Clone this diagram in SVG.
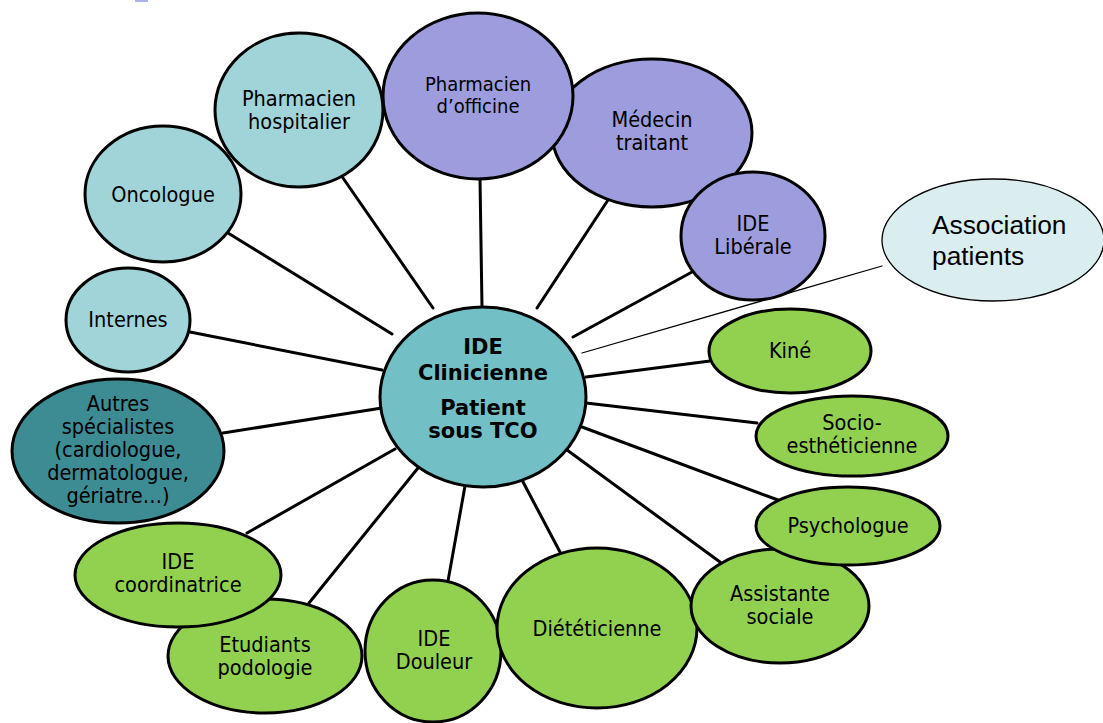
<svg xmlns="http://www.w3.org/2000/svg" width="1103" height="723" viewBox="0 0 1103 723">
<style>
.n{stroke:#000;stroke-width:3}
.lt{fill:#a0d4d8}.pu{fill:#9d9cdc}.gr{fill:#92d050}.dk{fill:#3d8b93}.ce{fill:#72bfc5}
.as{fill:#daedef;stroke:#000;stroke-width:1.3}
.c line{stroke:#000;stroke-width:3;stroke-linecap:round}
text{font-family:"DejaVu Sans Condensed","DejaVu Sans",sans-serif;font-size:21.5px;fill:#000;text-anchor:middle}
.s{font-size:20px}
.b{font-family:"DejaVu Sans",sans-serif;font-weight:bold;font-size:21px}
.ar{font-family:"Liberation Sans",Arial,sans-serif;font-size:26.3px;text-anchor:start}
</style>
<rect x="135" y="0" width="13" height="2" fill="#aab0f0"/>
<g id="connectors" class="c">
<line x1="228" y1="233" x2="392" y2="334"/>
<line x1="343" y1="178" x2="433" y2="308"/>
<line x1="480" y1="179" x2="482" y2="307"/>
<line x1="608" y1="200" x2="537" y2="308"/>
<line x1="692" y1="272" x2="573" y2="337"/>
<line x1="882" y1="266" x2="582" y2="353" style="stroke-width:1.3"/>
<line x1="586" y1="377" x2="710" y2="361"/>
<line x1="586" y1="403" x2="757" y2="423"/>
<line x1="582" y1="427" x2="778" y2="500"/>
<line x1="567" y1="450" x2="720" y2="562"/>
<line x1="522" y1="480" x2="560" y2="552"/>
<line x1="465" y1="486" x2="448" y2="581"/>
<line x1="418" y1="468" x2="309" y2="603"/>
<line x1="395" y1="449" x2="247" y2="533"/>
<line x1="223" y1="433" x2="382" y2="408"/>
<line x1="190" y1="332" x2="382" y2="370"/>
</g>
<g id="oncologue"><ellipse class="n lt" cx="163" cy="194" rx="78" ry="68"/><text x="163" y="202">Oncologue</text></g>
<g id="pharmacien-hospitalier"><ellipse class="n lt" cx="299" cy="110" rx="84" ry="77"/><text x="299" y="106">Pharmacien</text><text x="299" y="129">hospitalier</text></g>
<g id="medecin-traitant"><ellipse class="n pu" cx="652" cy="133" rx="100" ry="74"/><text x="652" y="127">Médecin</text><text x="652" y="150">traitant</text></g>
<g id="pharmacien-officine"><ellipse class="n pu" cx="478" cy="96" rx="95" ry="83"/><text class="s" x="478" y="91">Pharmacien</text><text class="s" x="478" y="113">d’officine</text></g>
<g id="ide-liberale"><ellipse class="n pu" cx="753" cy="236" rx="72" ry="64"/><text x="753" y="231">IDE</text><text x="753" y="254">Libérale</text></g>
<g id="internes"><ellipse class="n lt" cx="128" cy="320" rx="62" ry="52"/><text x="128" y="327">Internes</text></g>
<g id="autres-specialistes"><ellipse class="n dk" cx="118" cy="451" rx="106" ry="72"/><text x="118" y="411">Autres</text><text x="118" y="434">spécialistes</text><text x="118" y="457">(cardiologue,</text><text x="118" y="480">dermatologue,</text><text x="118" y="503">gériatre…)</text></g>
<g id="etudiants-podologie"><ellipse class="n gr" cx="265" cy="656" rx="97" ry="57"/><text x="265" y="652">Etudiants</text><text x="265" y="675">podologie</text></g>
<g id="ide-coordinatrice"><ellipse class="n gr" cx="178" cy="575" rx="103" ry="52"/><text x="178" y="569">IDE</text><text x="178" y="592">coordinatrice</text></g>
<g id="ide-douleur"><ellipse class="n gr" cx="433" cy="651" rx="68" ry="71"/><text x="434" y="646">IDE</text><text x="434" y="669">Douleur</text></g>
<g id="dieteticienne"><ellipse class="n gr" cx="597" cy="628" rx="100" ry="80"/><text x="597" y="636">Diététicienne</text></g>
<g id="assistante-sociale"><ellipse class="n gr" cx="780" cy="606" rx="89" ry="57"/><text x="780" y="601">Assistante</text><text x="780" y="624">sociale</text></g>
<g id="psychologue"><ellipse class="n gr" cx="848" cy="526" rx="92" ry="39"/><text x="848" y="533">Psychologue</text></g>
<g id="kine"><ellipse class="n gr" cx="790" cy="351" rx="81" ry="42"/><text x="790" y="358">Kiné</text></g>
<g id="socio-estheticienne"><ellipse class="n gr" cx="852" cy="436" rx="96" ry="40"/><text x="852" y="430">Socio-</text><text x="852" y="453">esthéticienne</text></g>
<g id="association-patients"><ellipse class="as" cx="993" cy="240" rx="111" ry="61"/><text class="ar" x="932" y="234">Association</text><text class="ar" x="932" y="265">patients</text></g>
<g id="ide-clinicienne"><ellipse class="n ce" cx="483" cy="397" rx="103" ry="90"/><text class="b" x="483" y="354">IDE</text><text class="b" x="483" y="380">Clinicienne</text><text class="b" x="483" y="415">Patient</text><text class="b" x="483" y="438">sous TCO</text></g>
</svg>
